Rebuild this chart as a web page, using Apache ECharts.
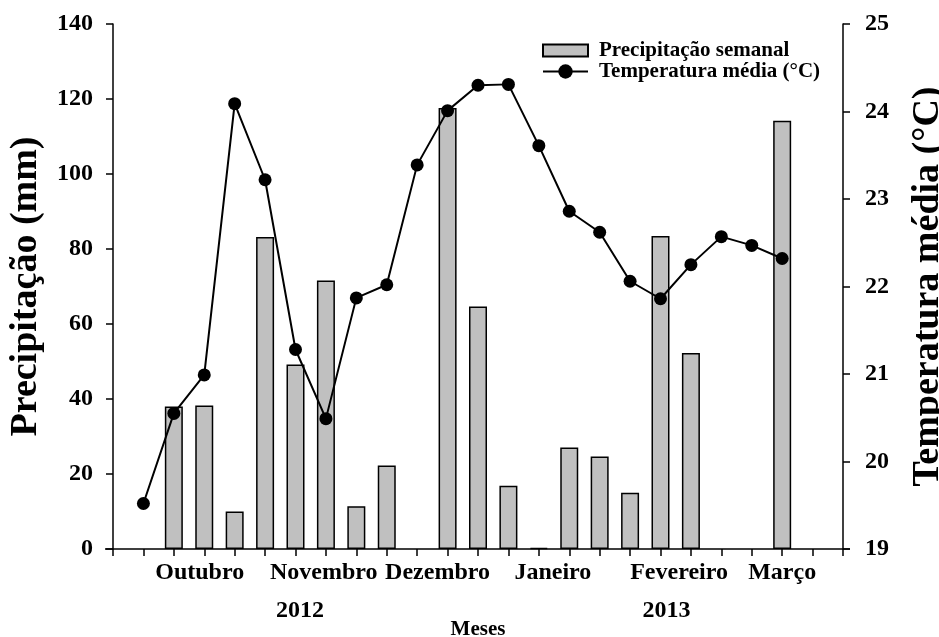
<!DOCTYPE html>
<html>
<head>
<meta charset="utf-8">
<script src="https://cdn.jsdelivr.net/npm/echarts@6/dist/echarts.min.js"></script>
<style>
  html, body { margin: 0; padding: 0; background: #fff; }
  #chart { width: 939px; height: 637px; }
</style>
</head>
<body>
<div id="chart"></div>
<script>
// Weekly precipitation (mm) and mean temperature (°C), Oct 2012 – Mar 2013
const precipWeeks = [2, 3, 4, 5, 6, 7, 8, 9, 10, 11, 12, 13, 14, 15, 16, 17, 18, 19, 20, 21, 22];
const precipitation = [38.0, 38.3, 10.0, 83.2, 49.2, 71.6, 11.4, 22.3, null, 117.6, 64.7, 16.9, 0.3, 27.1, 24.7, 15.0, 83.5, 52.3, null, null, 114.2];

const tempWeeks = [1, 2, 3, 4, 5, 6, 7, 8, 9, 10, 11, 12, 13, 14, 15, 16, 17, 18, 19, 20, 21, 22];
const temperature = [19.52, 20.55, 20.99, 24.09, 23.22, 21.28, 20.49, 21.87, 22.02, 23.39, 24.01, 24.30, 24.31, 23.61, 22.86, 22.62, 22.06, 21.86, 22.25, 22.57, 22.47, 22.32];

// Month and year captions under the week axis (placed in week units)
const monthLabels = ['Outubro', 'Novembro', 'Dezembro', 'Janeiro', 'Fevereiro', 'Março'];
const monthWeeks = [2.85, 6.93, 10.67, 14.46, 18.61, 22.0];
const yearLabels = ['2012', '2013'];
const yearWeeks = [6.15, 18.2];

const precipTicks = [0, 20, 40, 60, 80, 100, 120, 140];
const tempTicks = [19, 20, 21, 22, 23, 24, 25];

const FONT = 'Liberation Serif';

const chart = echarts.init(document.getElementById('chart'), null, { renderer: 'canvas' });

const axisLine = { show: true, lineStyle: { color: '#000', width: 1.5 } };
const axisTick = { show: true, inside: false, length: 7, lineStyle: { color: '#000', width: 1.5 } };
const tickLabel = { color: '#000', fontFamily: FONT, fontWeight: 'bold', fontSize: 24 };
const titleText = { color: '#000', fontFamily: FONT, fontWeight: 'bold', fontSize: 38 };

// Legend box for the bars: a 45x12 rectangle centred in an 18px tall slot
const barLegendIcon = 'path://M0,0M45,18M0,3L45,3L45,15L0,15Z';

chart.setOption({
  animation: false,
  backgroundColor: '#fff',
  grid: { left: 113, right: 96, top: 24, bottom: 88, containLabel: false, outerBoundsMode: 'none' },
  legend: {
    orient: 'vertical',
    left: 537,
    top: 35,
    itemWidth: 45,
    itemHeight: 18,
    itemGap: 0,
    textStyle: { color: '#000', fontFamily: FONT, fontWeight: 'bold', fontSize: 21, lineHeight: 20, padding: [0, 0, 0, 6] },
    data: [
      { name: 'Precipitação semanal', icon: barLegendIcon },
      { name: 'Temperatura média (°C)' }
    ]
  },
  xAxis: {
    type: 'value',
    min: 0,
    max: 24,
    interval: 1,
    name: 'Meses',
    nameLocation: 'middle',
    nameGap: 70,
    nameTextStyle: { color: '#000', fontFamily: FONT, fontWeight: 'bold', fontSize: 21 },
    axisLine: axisLine,
    axisTick: axisTick,
    splitLine: { show: false },
    axisLabel: { show: false }
  },
  yAxis: [
    {
      type: 'value',
      min: precipTicks[0],
      max: precipTicks[precipTicks.length - 1],
      interval: 20,
      position: 'left',
      name: 'Precipitação (mm)',
      nameLocation: 'middle',
      nameGap: 68,
      nameRotate: 90,
      nameTextStyle: titleText,
      axisLine: axisLine,
      axisTick: axisTick,
      splitLine: { show: false },
      axisLabel: Object.assign({}, tickLabel, { margin: 20 })
    },
    {
      type: 'value',
      min: tempTicks[0],
      max: tempTicks[tempTicks.length - 1],
      interval: 1,
      position: 'right',
      name: 'Temperatura média (°C)',
      nameLocation: 'middle',
      nameGap: 66,
      nameRotate: 90,
      nameTextStyle: titleText,
      axisLine: axisLine,
      axisTick: axisTick,
      splitLine: { show: false },
      axisLabel: Object.assign({}, tickLabel, { margin: 22 })
    }
  ],
  series: [
    {
      name: 'Precipitação semanal',
      type: 'bar',
      yAxisIndex: 0,
      barWidth: 18,
      itemStyle: { color: '#c0c0c0', borderColor: '#000', borderWidth: 1.5 },
      data: precipWeeks.map((w, i) => [w, precipitation[i]]).filter(d => d[1] !== null)
    },
    {
      name: 'Temperatura média (°C)',
      type: 'line',
      yAxisIndex: 1,
      symbol: 'circle',
      symbolSize: 13,
      itemStyle: { color: '#000' },
      lineStyle: { color: '#000', width: 2 },
      z: 3,
      data: tempWeeks.map((w, i) => [w, temperature[i]])
    }
  ]
});

// Month / year captions positioned through the week axis scale,
// plus the short overhang of the baseline past both vertical axes
function placeCaptions() {
  const baseY = chart.convertToPixel({ yAxisIndex: 0 }, 0);
  const x0 = chart.convertToPixel({ xAxisIndex: 0 }, 0);
  const x1 = chart.convertToPixel({ xAxisIndex: 0 }, 24);
  const caption = (t, x, y) => ({
    type: 'text',
    x: x,
    y: y,
    style: { text: t, fill: '#000', font: 'bold 24px "' + FONT + '"', textAlign: 'center', textVerticalAlign: 'middle' }
  });
  const elems = [
    { type: 'line', shape: { x1: x0 - 8, y1: baseY, x2: x0, y2: baseY }, style: { stroke: '#000', lineWidth: 1.5 } },
    { type: 'line', shape: { x1: x1, y1: baseY, x2: x1 + 7, y2: baseY }, style: { stroke: '#000', lineWidth: 1.5 } }
  ];
  monthLabels.forEach((m, i) => {
    elems.push(caption(m, chart.convertToPixel({ xAxisIndex: 0 }, monthWeeks[i]), baseY + 24));
  });
  yearLabels.forEach((y, i) => {
    elems.push(caption(y, chart.convertToPixel({ xAxisIndex: 0 }, yearWeeks[i]), baseY + 62));
  });
  chart.setOption({ graphic: elems });
}
placeCaptions();
</script>
</body>
</html>
